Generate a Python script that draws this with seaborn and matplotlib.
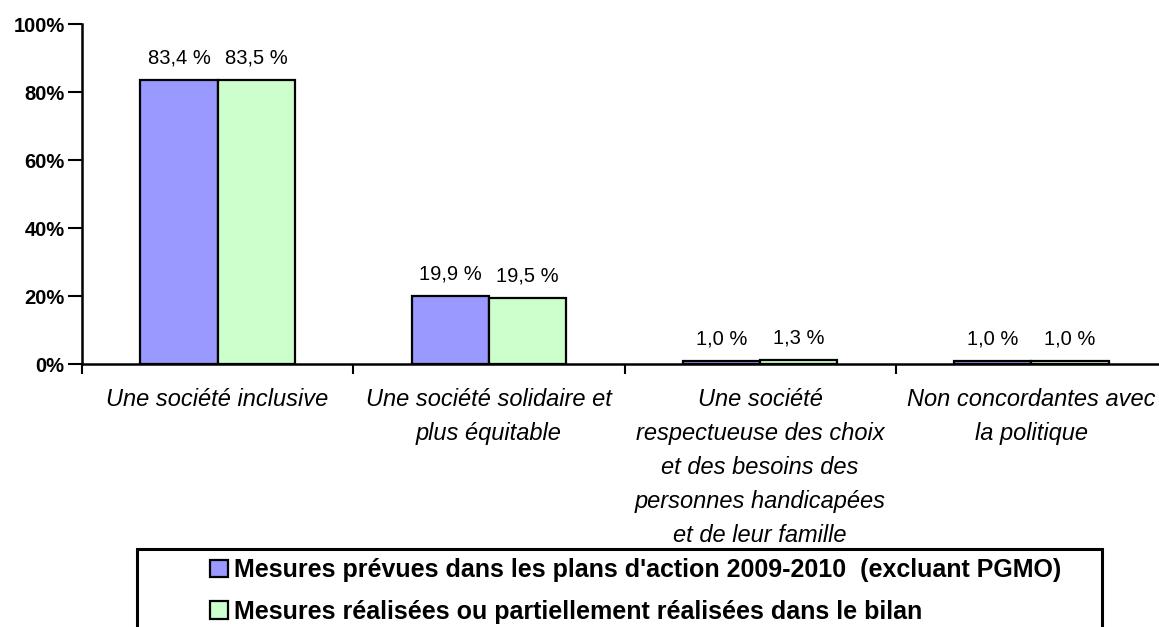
import matplotlib
matplotlib.use("Agg")
import matplotlib.pyplot as plt
import seaborn as sns
import pandas as pd
from matplotlib.patches import Rectangle

categories = [
    "Une société inclusive",
    "Une société solidaire et\nplus équitable",
    "Une société\nrespectueuse des choix\net des besoins des\npersonnes handicapées\net de leur famille",
    "Non concordantes avec\nla politique",
]
series_names = [
    "Mesures prévues dans les plans d'action 2009-2010  (excluant PGMO)",
    "Mesures réalisées ou partiellement réalisées dans le bilan",
]
prevues = [83.4, 19.9, 1.0, 1.0]
realisees = [83.5, 19.5, 1.3, 1.0]
yticks = [0, 20, 40, 60, 80, 100]
colors = ["#9999FF", "#CCFFCC"]

df = pd.DataFrame({
    "cat": categories * 2,
    "serie": [series_names[0]] * 4 + [series_names[1]] * 4,
    "val": prevues + realisees,
})

sns.set_theme(style="white")
plt.rcParams["font.family"] = ["Liberation Sans", "DejaVu Sans"]
plt.rcParams["text.color"] = "black"
plt.rcParams["xtick.color"] = "black"
plt.rcParams["ytick.color"] = "black"
plt.rcParams["axes.labelcolor"] = "black"

W, H = 1159, 627
fig = plt.figure(figsize=(W / 100, H / 100), dpi=100)
ax = fig.add_axes([82 / W, 1 - 364 / H, (1167 - 82) / W, 340 / H])

sns.barplot(data=df, x="cat", y="val", hue="serie", palette=colors,
            edgecolor="black", linewidth=1.6, width=0.57, gap=0,
            saturation=1, ax=ax)

ax.set_xlim(-0.5, 3.5)
ax.set_ylim(0, 100)
ax.set_yticks(yticks)
ax.set_yticklabels([f"{t}%" for t in yticks], fontweight="bold", fontsize=14.5)
ax.set_xlabel("")
ax.set_ylabel("")

# category labels at centres, boundary ticks as minor ticks
ax.set_xticks(range(len(categories)))
ax.set_xticklabels(categories, fontstyle="italic", fontsize=17, linespacing=1.62,
                   va="top")
ax.tick_params(axis="x", which="major", length=0, pad=17)
ax.set_xticks([-0.5, 0.5, 1.5, 2.5, 3.5], minor=True)
ax.tick_params(axis="x", which="minor", length=7, width=1.5, direction="out",
               color="black", bottom=True)
ax.tick_params(axis="y", length=10, width=1.5, direction="out", color="black",
               pad=2.5, left=True)

for side in ["top", "right"]:
    ax.spines[side].set_visible(False)
for side in ["left", "bottom"]:
    ax.spines[side].set_color("black")
    ax.spines[side].set_linewidth(1.8)
ax.grid(False)

for cont, vals in zip(ax.containers, [prevues, realisees]):
    ax.bar_label(cont, labels=[f"{v:.1f} %".replace(".", ",") for v in vals],
                 padding=9, fontsize=14.5, color="black")

handles, labels = ax.get_legend_handles_labels()
ax.get_legend().remove()

# legend frame (extends beyond the bottom of the figure)
fig.patches.append(Rectangle((137 / W, -0.05), (1102 - 137) / W, 1 - 549 / H + 0.05,
                             transform=fig.transFigure, facecolor="white",
                             edgecolor="black", linewidth=2.2, zorder=0))
leg = fig.legend(handles, labels, loc="upper left",
                 bbox_to_anchor=(210 / W, 1 - 558 / H),
                 frameon=False, borderpad=0, borderaxespad=0,
                 handlelength=0.7, handleheight=0.7, handletextpad=0.25,
                 labelspacing=0.7, prop={"weight": "bold", "size": 18})
for h in leg.legend_handles:
    h.set_edgecolor("black")
    h.set_linewidth(1.6)

fig.savefig("out.png", dpi=100)
